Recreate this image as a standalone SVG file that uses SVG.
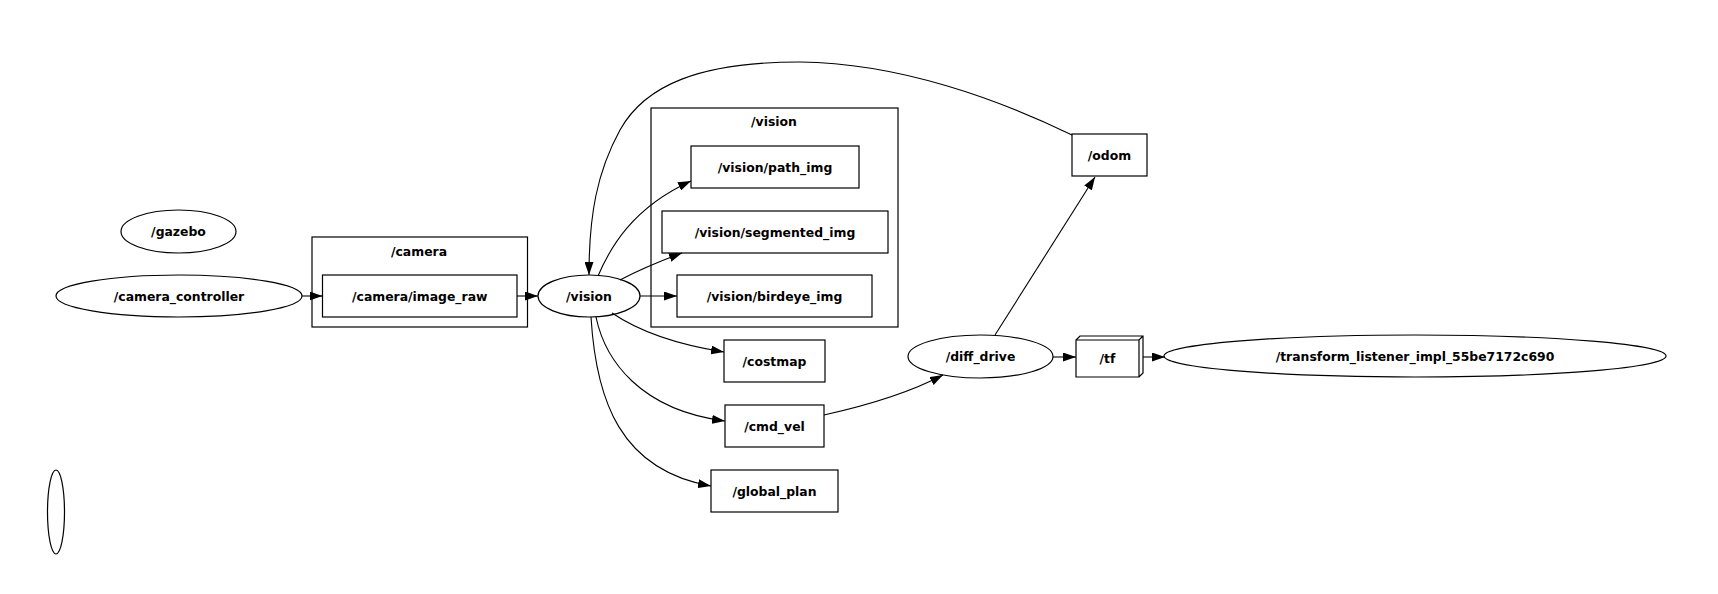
<svg xmlns="http://www.w3.org/2000/svg" width="1718" height="594" viewBox="0 0 1718 594">
<style>
  .shape { fill: none; stroke: #000; stroke-width: 1.2; }
  .edge { fill: none; stroke: #000; stroke-width: 1.1; }
  .lbl { font-family: "DejaVu Sans", "Liberation Sans", sans-serif; font-weight: bold; font-size: 12.4px; fill: #000; text-anchor: middle; }
</style>
<defs>
  <marker id="arr" markerUnits="userSpaceOnUse" markerWidth="13" markerHeight="9" refX="13" refY="4.5" orient="auto">
    <path d="M0,0 L13,4.5 L0,9 z" fill="#000"/>
  </marker>
</defs>
<rect width="1718" height="594" fill="#fff"/>

<g id="cluster_camera">
  <rect class="shape" x="312" y="237" width="215.5" height="90"/>
  <text class="lbl" x="419" y="256">/camera</text>
</g>
<g id="cluster_vision">
  <rect class="shape" x="651" y="108" width="247" height="219"/>
  <text class="lbl" x="774" y="126">/vision</text>
</g>

<g id="edges">
  <path class="edge" d="M302,296 L322.5,296" marker-end="url(#arr)"/>
  <path class="edge" d="M517,296 L538,296" marker-end="url(#arr)"/>
  <path class="edge" d="M640,296 L677,296" marker-end="url(#arr)"/>
  <path class="edge" d="M598,276 C610,248 632,208 691,181" marker-end="url(#arr)"/>
  <path class="edge" d="M620,280 C635,272 655,263 682,253" marker-end="url(#arr)"/>
  <path class="edge" d="M612,313 C640,332 680,345 724,352" marker-end="url(#arr)"/>
  <path class="edge" d="M596,317 C605,360 640,410 725,421" marker-end="url(#arr)"/>
  <path class="edge" d="M591,317 C596,400 620,470 711,486" marker-end="url(#arr)"/>
  <path class="edge" d="M1072,135 C1000,100 900,63 800,62 C700,62 645,85 620,130 C597,172 589,215 589,275" marker-end="url(#arr)"/>
  <path class="edge" d="M824,415 C860,407 905,395 943,375" marker-end="url(#arr)"/>
  <path class="edge" d="M995,335 L1095,177" marker-end="url(#arr)"/>
  <path class="edge" d="M1053,357 L1076,357" marker-end="url(#arr)"/>
  <path class="edge" d="M1143,357 L1165,357" marker-end="url(#arr)"/>
</g>

<g id="n_gazebo">
  <ellipse class="shape" cx="178.5" cy="231.5" rx="57.5" ry="21.5"/>
  <text class="lbl" x="178.5" y="236">/gazebo</text>
</g>
<g id="n_camera_controller">
  <ellipse class="shape" cx="179" cy="296" rx="123" ry="21"/>
  <text class="lbl" x="179" y="300.5">/camera_controller</text>
</g>
<g id="n_image_raw">
  <rect class="shape" x="322.5" y="275" width="194.5" height="42"/>
  <text class="lbl" x="419.75" y="300.5">/camera/image_raw</text>
</g>
<g id="n_vision">
  <ellipse class="shape" cx="589" cy="296" rx="51" ry="21"/>
  <text class="lbl" x="589" y="300.5">/vision</text>
</g>
<g id="n_path_img">
  <rect class="shape" x="691" y="146" width="168" height="42"/>
  <text class="lbl" x="775" y="171.5">/vision/path_img</text>
</g>
<g id="n_segmented_img">
  <rect class="shape" x="662" y="211" width="226" height="42"/>
  <text class="lbl" x="775" y="236.5">/vision/segmented_img</text>
</g>
<g id="n_birdeye_img">
  <rect class="shape" x="677" y="275" width="195" height="42"/>
  <text class="lbl" x="774.5" y="300.5">/vision/birdeye_img</text>
</g>
<g id="n_costmap">
  <rect class="shape" x="724" y="340" width="101" height="42"/>
  <text class="lbl" x="774.5" y="365.5">/costmap</text>
</g>
<g id="n_cmd_vel">
  <rect class="shape" x="725" y="405" width="99" height="42"/>
  <text class="lbl" x="774.5" y="430.5">/cmd_vel</text>
</g>
<g id="n_global_plan">
  <rect class="shape" x="711" y="470" width="127" height="42"/>
  <text class="lbl" x="774.5" y="495.5">/global_plan</text>
</g>
<g id="n_odom">
  <rect class="shape" x="1072" y="134" width="75" height="42"/>
  <text class="lbl" x="1109.5" y="159.5">/odom</text>
</g>
<g id="n_diff_drive">
  <ellipse class="shape" cx="980.5" cy="356.5" rx="72.5" ry="21.5"/>
  <text class="lbl" x="980.5" y="361">/diff_drive</text>
</g>
<g id="n_tf">
  <path class="shape" d="M1076,340 L1080,336 L1143,336 L1143,373 L1139,377 L1076,377 Z M1076,340 L1139,340 L1143,336 M1139,340 L1139,377"/>
  <text class="lbl" x="1107.5" y="363">/tf</text>
</g>
<g id="n_listener">
  <ellipse class="shape" cx="1415" cy="356" rx="251" ry="21"/>
  <text class="lbl" x="1415" y="360.5">/transform_listener_impl_55be7172c690</text>
</g>
<g id="n_empty">
  <ellipse class="shape" cx="56" cy="512" rx="8.5" ry="42"/>
</g>
</svg>
